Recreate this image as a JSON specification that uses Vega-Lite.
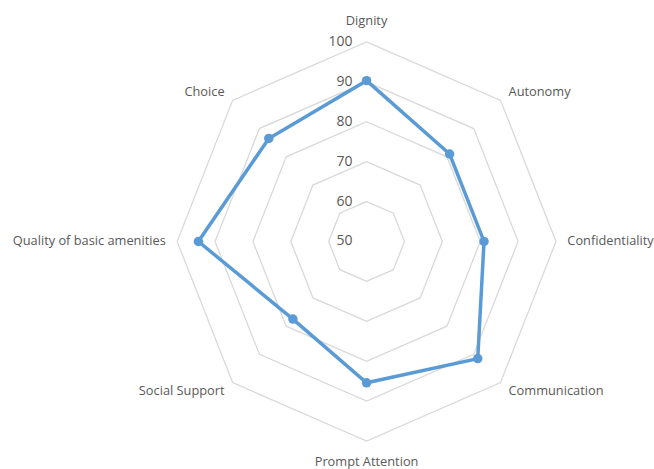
{
  "$schema": "https://vega.github.io/schema/vega-lite/v6.json",
  "width": 654,
  "height": 469,
  "padding": 0,
  "autosize": {"type": "fit", "contains": "padding"},
  "background": "white",
  "config": {"view": {"stroke": null}},
  "datasets": {
    "scores": [
      {"axis": "Dignity", "score": 90.3},
      {"axis": "Autonomy", "score": 81},
      {"axis": "Confidentiality", "score": 81},
      {"axis": "Communication", "score": 91.5},
      {"axis": "Prompt Attention", "score": 85.4},
      {"axis": "Social Support", "score": 77.5},
      {"axis": "Quality of basic amenities", "score": 94.4},
      {"axis": "Choice", "score": 86.5}
    ],
    "rings": [
      {"level": 60, "vertex": [0, 1, 2, 3, 4, 5, 6, 7]},
      {"level": 70, "vertex": [0, 1, 2, 3, 4, 5, 6, 7]},
      {"level": 80, "vertex": [0, 1, 2, 3, 4, 5, 6, 7]},
      {"level": 90, "vertex": [0, 1, 2, 3, 4, 5, 6, 7]},
      {"level": 100, "vertex": [0, 1, 2, 3, 4, 5, 6, 7]}
    ],
    "ticks": [
      {"v": 50}, {"v": 60}, {"v": 70}, {"v": 80}, {"v": 90}, {"v": 100}
    ]
  },
  "encoding": {
    "x": {"field": "x", "type": "quantitative", "scale": {"domain": [-96.76, 75.34], "nice": false, "zero": false}, "axis": null},
    "y": {"field": "y", "type": "quantitative", "scale": {"domain": [-56.75, 60.5], "nice": false, "zero": false}, "axis": null}
  },
  "layer": [
    {
      "data": {"name": "rings"},
      "transform": [
        {"flatten": ["vertex"]},
        {"calculate": "datum.vertex * PI / 4", "as": "theta"},
        {"calculate": "(datum.level - 50) * sin(datum.theta)", "as": "x"},
        {"calculate": "(datum.level - 50) * cos(datum.theta)", "as": "y"}
      ],
      "mark": {"type": "line", "interpolate": "linear-closed", "color": "#d9d9d9", "strokeWidth": 1.3},
      "encoding": {
        "detail": {"field": "level", "type": "nominal"},
        "order": {"field": "vertex", "type": "quantitative"}
      }
    },
    {
      "data": {"name": "ticks"},
      "transform": [
        {"calculate": "0", "as": "x"},
        {"calculate": "datum.v - 50", "as": "y"}
      ],
      "mark": {"type": "text", "align": "right", "baseline": "middle", "dx": -14, "font": "Open Sans", "fontSize": 14, "color": "#595959"},
      "encoding": {"text": {"field": "v", "type": "quantitative"}}
    },
    {
      "data": {"name": "scores"},
      "transform": [
        {"window": [{"op": "row_number", "as": "idx"}]},
        {"calculate": "(datum.idx - 1) * PI / 4", "as": "theta"},
        {"calculate": "(datum.score - 50) * sin(datum.theta)", "as": "x"},
        {"calculate": "(datum.score - 50) * cos(datum.theta)", "as": "y"},
        {"calculate": "53 * sin(datum.theta)", "as": "lx"},
        {"calculate": "53 * cos(datum.theta)", "as": "ly"},
        {"calculate": "55.25 * cos(datum.theta)", "as": "cy"}
      ],
      "layer": [
        {
          "mark": {"type": "line", "interpolate": "linear-closed", "color": "#5b9bd5", "strokeWidth": 3.5},
          "encoding": {"order": {"field": "idx", "type": "quantitative"}}
        },
        {
          "mark": {"type": "point", "filled": true, "opacity": 1, "color": "#5b9bd5", "size": 90}
        },
        {
          "transform": [{"filter": "sin(datum.theta) > 0.1"}],
          "mark": {"type": "text", "align": "left", "baseline": "middle", "font": "Open Sans", "fontSize": 12.8, "color": "#595959"},
          "encoding": {
            "x": {"field": "lx", "type": "quantitative"},
            "y": {"field": "ly", "type": "quantitative"},
            "text": {"field": "axis"}
          }
        },
        {
          "transform": [{"filter": "sin(datum.theta) < -0.1"}],
          "mark": {"type": "text", "align": "right", "baseline": "middle", "font": "Open Sans", "fontSize": 12.8, "color": "#595959"},
          "encoding": {
            "x": {"field": "lx", "type": "quantitative"},
            "y": {"field": "ly", "type": "quantitative"},
            "text": {"field": "axis"}
          }
        },
        {
          "transform": [{"filter": "abs(sin(datum.theta)) <= 0.1"}],
          "mark": {"type": "text", "align": "center", "baseline": "middle", "font": "Open Sans", "fontSize": 12.8, "color": "#595959"},
          "encoding": {
            "x": {"field": "lx", "type": "quantitative"},
            "y": {"field": "cy", "type": "quantitative"},
            "text": {"field": "axis"}
          }
        }
      ]
    }
  ]
}
